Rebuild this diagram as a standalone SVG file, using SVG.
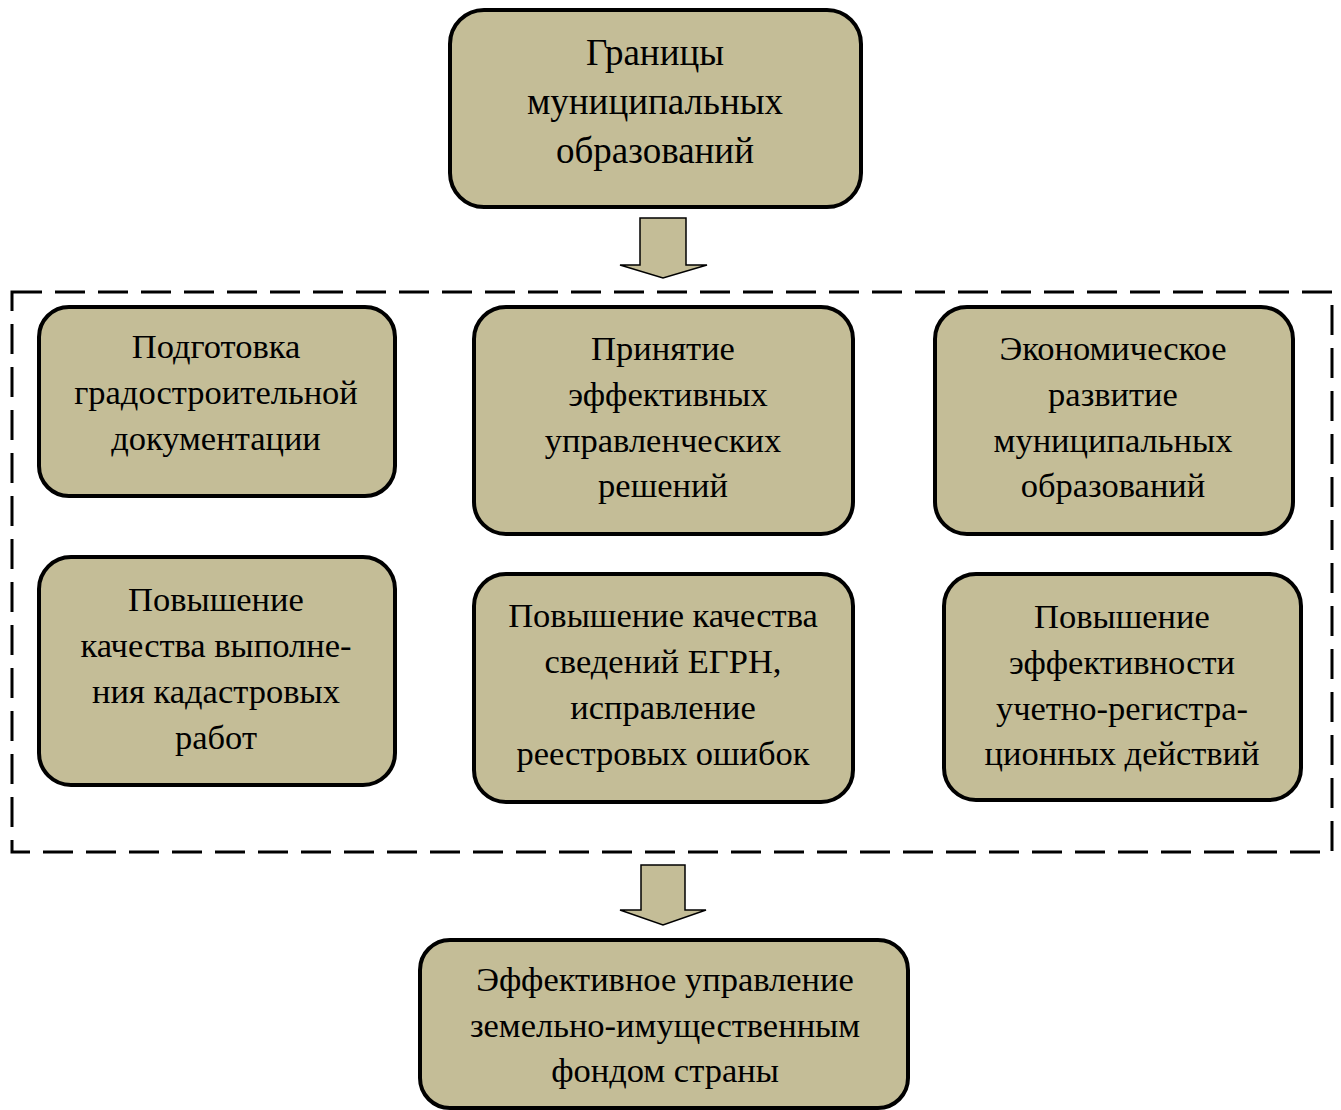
<svg xmlns="http://www.w3.org/2000/svg" width="1341" height="1110" viewBox="0 0 1341 1110">
<style>
.box{fill:#C4BD97;stroke:#000;stroke-width:4}
.arr{fill:#C4BD97;stroke:#000;stroke-width:1.5;stroke-linejoin:miter}
.frame{fill:none;stroke:#000;stroke-width:3;stroke-dasharray:30 13}
text{font-family:"Liberation Serif","Times New Roman",serif;font-size:34.5px;fill:#000;text-anchor:middle}
.big{font-size:37px}
</style>
<rect width="1341" height="1110" fill="#fff"/>
<rect class="frame" x="12" y="292" width="1320" height="560"/>
<g id="connectors">
<polygon class="arr" points="640,218 686,218 686,265 707,265 663,278 620,265 640,265"/>
<polygon class="arr" points="641,865 685,865 685,910 706,910 663,925 620,910 641,910"/>
</g>
<g id="n-top">
<rect class="box" x="450" y="10" width="411" height="197" rx="34"/>
<text class="big" x="655" y="65">Границы</text>
<text class="big" x="655" y="114">муниципальных</text>
<text class="big" x="655" y="163">образований</text>
</g>
<g id="n1">
<rect class="box" x="39" y="307" width="356" height="189" rx="30"/>
<text x="216" y="358">Подготовка</text>
<text x="216" y="404">градостроительной</text>
<text x="216" y="450">документации</text>
</g>
<g id="n2">
<rect class="box" x="474" y="307" width="379" height="227" rx="32"/>
<text x="663" y="360">Принятие</text>
<text x="668" y="406">эффективных</text>
<text x="663" y="452">управленческих</text>
<text x="663" y="497">решений</text>
</g>
<g id="n3">
<rect class="box" x="935" y="307" width="358" height="227" rx="32"/>
<text x="1113" y="360">Экономическое</text>
<text x="1113" y="406">развитие</text>
<text x="1113" y="452">муниципальных</text>
<text x="1113" y="497">образований</text>
</g>
<g id="n4">
<rect class="box" x="39" y="557" width="356" height="228" rx="32"/>
<text x="216" y="611">Повышение</text>
<text x="216" y="657">качества выполне-</text>
<text x="216" y="703">ния кадастровых</text>
<text x="216" y="749">работ</text>
</g>
<g id="n5">
<rect class="box" x="474" y="574" width="379" height="228" rx="32"/>
<text x="663" y="627">Повышение качества</text>
<text x="663" y="673">сведений ЕГРН,</text>
<text x="663" y="719">исправление</text>
<text x="663" y="765">реестровых ошибок</text>
</g>
<g id="n6">
<rect class="box" x="944" y="574" width="357" height="226" rx="32"/>
<text x="1122" y="628">Повышение</text>
<text x="1122" y="674">эффективности</text>
<text x="1122" y="720">учетно-регистра-</text>
<text x="1122" y="765">ционных действий</text>
</g>
<g id="n-bottom">
<rect class="box" x="420" y="940" width="488" height="168" rx="30"/>
<text x="665" y="991">Эффективное управление</text>
<text x="665" y="1037">земельно-имущественным</text>
<text x="665" y="1082">фондом страны</text>
</g>
</svg>
